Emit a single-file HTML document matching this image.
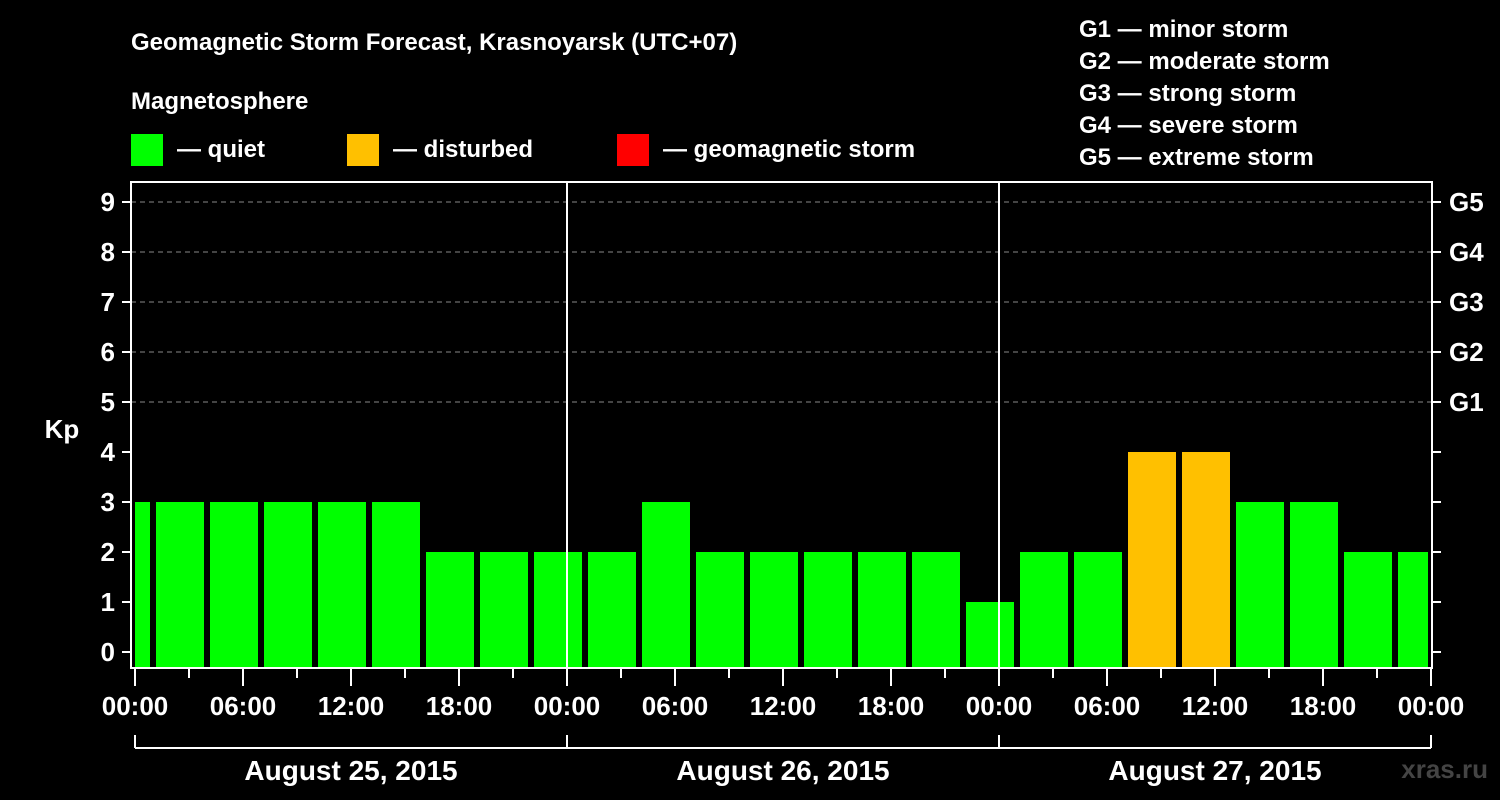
<!DOCTYPE html>
<html><head><meta charset="utf-8"><style>
html,body{margin:0;padding:0;background:#000;}
svg{display:block;font-family:"Liberation Sans",Arial,sans-serif;font-weight:bold;}
</style></head><body>
<svg id="chart" width="1500" height="800" viewBox="0 0 1500 800">
<rect x="0" y="0" width="1500" height="800" fill="#000"/>
<text x="131" y="50" fill="#fff" font-size="24">Geomagnetic Storm Forecast, Krasnoyarsk (UTC+07)</text>
<text x="131" y="109" fill="#fff" font-size="24">Magnetosphere</text>
<g><rect x="131" y="134" width="32" height="32" fill="#00ff00"/><text x="177" y="157" fill="#fff" font-size="24">— quiet</text></g>
<g><rect x="347" y="134" width="32" height="32" fill="#ffc000"/><text x="393" y="157" fill="#fff" font-size="24">— disturbed</text></g>
<g><rect x="617" y="134" width="32" height="32" fill="#ff0000"/><text x="663" y="157" fill="#fff" font-size="24">— geomagnetic storm</text></g>
<g fill="#fff" font-size="24">
<text x="1079" y="37">G1 — minor storm</text>
<text x="1079" y="69">G2 — moderate storm</text>
<text x="1079" y="101">G3 — strong storm</text>
<text x="1079" y="133">G4 — severe storm</text>
<text x="1079" y="165">G5 — extreme storm</text>
</g>
<text x="62" y="438" fill="#fff" font-size="26" text-anchor="middle">Kp</text>
<text x="1488" y="778" fill="#444" font-size="26" text-anchor="end">xras.ru</text>
<g id="grid"></g><g id="bars"></g><g id="axes"></g>
</svg>
<script>
const kpValues=[3,3,3,3,3,3,2,2,2,2,3,2,2,2,2,2,1,2,2,4,4,3,3,2,2];
const barStartHours=-2;
const barHours=3;
const yTicks=[0,1,2,3,4,5,6,7,8,9];
const gLabels=["G1","G2","G3","G4","G5"];
const xTickLabels=["00:00","06:00","12:00","18:00","00:00","06:00","12:00","18:00","00:00","06:00","12:00","18:00","00:00"];
const dateLabels=["August 25, 2015","August 26, 2015","August 27, 2015"];
const NS="http://www.w3.org/2000/svg";
const L=131,R=1432,T=182,B=668,X0=135,HPX=18;
const x=h=>X0+h*HPX;
const y=v=>652-v*50;
function mk(tag,attrs,parent,txt){const e=document.createElementNS(NS,tag);for(const k in attrs)e.setAttribute(k,attrs[k]);if(txt!==undefined)e.textContent=txt;parent.appendChild(e);return e;}
const grid=document.getElementById('grid'),bars=document.getElementById('bars'),axes=document.getElementById('axes');
for(let v=5;v<=9;v++){
 const l=mk('line',{x1:L,x2:R,y1:y(v),y2:y(v),stroke:'#888','stroke-dasharray':'5,4','stroke-width':1},grid);
 
 
}
kpValues.forEach((v,i)=>{
 let h0=barStartHours+i*barHours,h1=h0+barHours;
 let x0=Math.max(x(h0)+3,L+4),x1=Math.min(x(h1)-3,R-4);
 const r=mk('rect',{x:x0,y:y(v),width:x1-x0,height:B-y(v),fill:v>=5?'#ff0000':(v>=4?'#ffc000':'#00ff00')},bars);
 
 
});
[24,48].forEach(h=>{
 const l=mk('line',{x1:x(h),x2:x(h),y1:T,y2:B,stroke:'#fff','stroke-width':2},axes);
 
 
});
const fr=mk('rect',{x:L,y:T,width:R-L,height:B-T,fill:'none',stroke:'#fff','stroke-width':2},axes);


yTicks.forEach(v=>{
 mk('line',{x1:L-9,x2:L,y1:y(v),y2:y(v),stroke:'#fff','stroke-width':2},axes);
 mk('line',{x1:R,x2:R+9,y1:y(v),y2:y(v),stroke:'#fff','stroke-width':2},axes);
 const t=mk('text',{x:L-16,y:y(v)+9,fill:'#fff','font-size':26,'text-anchor':'end'},axes,String(v));
 
 
});
gLabels.forEach((g,i)=>{
 const t=mk('text',{x:1449,y:y(5+i)+9,fill:'#fff','font-size':26},axes,g);
 
 
});
for(let h=0;h<=72;h+=3){
 const major=h%6===0;
 mk('line',{x1:x(h),x2:x(h),y1:B,y2:B+(major?18:10),stroke:'#fff','stroke-width':2},axes);
}
xTickLabels.forEach((s,i)=>{
 const t=mk('text',{x:x(i*6),y:715,fill:'#fff','font-size':26,'text-anchor':'middle'},axes,s);
 
 
});
mk('line',{x1:x(0),x2:x(72),y1:748,y2:748,stroke:'#fff','stroke-width':2},axes);
for(let d=0;d<=3;d++)mk('line',{x1:x(d*24),x2:x(d*24),y1:735,y2:748,stroke:'#fff','stroke-width':2},axes);
dateLabels.forEach((s,i)=>{
 const t=mk('text',{x:x(i*24+12),y:780,fill:'#fff','font-size':28,'text-anchor':'middle'},axes,s);
 
 
});
</script>
</body></html>
